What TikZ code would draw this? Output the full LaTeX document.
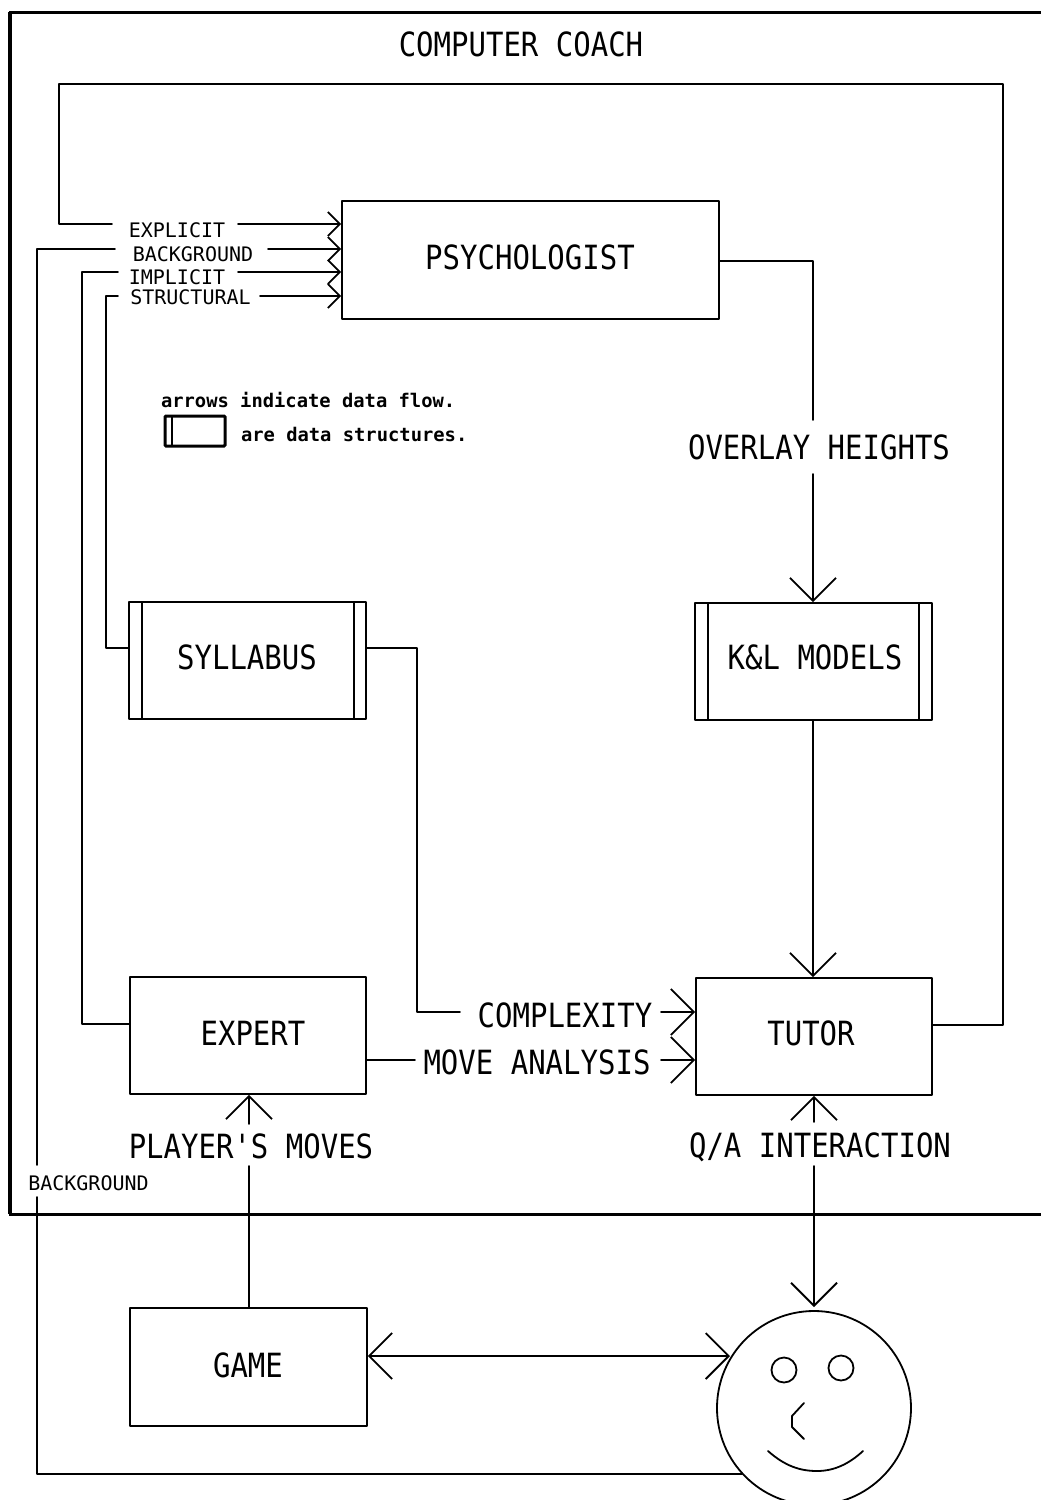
\documentclass[tikz,border=0pt]{standalone}
\usepackage{fontspec}
\usepackage{graphicx}
\setmonofont{DejaVu Sans Mono}
\usetikzlibrary{arrows.meta,calc}
\newcommand{\bigtxt}[1]{{\ttfamily\fontsize{29}{29}\selectfont\scalebox{1}[1.15]{#1}}}
\newcommand{\smalltxt}[1]{{\ttfamily\fontsize{20}{20}\selectfont #1}}
\newcommand{\tinytxt}[1]{{\ttfamily\bfseries\fontsize{18.8}{20}\selectfont #1}}
\tikzset{
  ln/.style={line width=1.8pt,line cap=round,line join=round},
  boxn/.style={draw,ln,inner sep=0pt,fill=white},
  lab/.style={inner sep=0pt,outer sep=0pt},
  bigtip/.style={-{Straight Barb[length=23pt,width=46pt,line width=1.8pt]}},
  bigboth/.style={{Straight Barb[length=23pt,width=46pt,line width=1.8pt]}-{Straight Barb[length=23pt,width=46pt,line width=1.8pt]}},
  smalltip/.style={-{Straight Barb[length=12pt,width=24pt,line width=1.8pt]}},
}
\begin{document}
\begin{tikzpicture}[x=1pt,y=-1pt]
\useasboundingbox (0,0) rectangle (1041,1500);
\begin{scope}
\clip (0,0) rectangle (1041,1500);
% frame
\coordinate (ftr) at (1041,12);
\coordinate (ftl) at (10,12);
\coordinate (fbl) at (10,1214);
\coordinate (fbr) at (1041,1214);
\draw[line width=3pt,line join=miter] (ftr) -- (ftl) -- (fbl) -- (fbr);
\draw[line width=4pt] (ftl) -- (fbl);
\node[lab] (title) at (521,44) {\bigtxt{COMPUTER COACH}};

% boxes
\node[boxn,minimum width=377pt,minimum height=118pt] (psy) at (530.5,260) {};
\node[boxn,minimum width=237pt,minimum height=117pt] (syl) at (247.5,660.5) {};
\node[boxn,minimum width=237pt,minimum height=117pt] (kl) at (813.5,661.5) {};
\node[boxn,minimum width=236pt,minimum height=117pt] (exp) at (248,1035.5) {};
\node[boxn,minimum width=236pt,minimum height=117pt] (tut) at (814,1036.5) {};
\node[boxn,minimum width=237pt,minimum height=118pt] (game) at (248.5,1367) {};
\node[draw,ln,circle,minimum size=194pt,inner sep=0pt] (face) at (814,1408) {};

% box texts
\node[lab] (tpsy) at (530,257) {\bigtxt{PSYCHOLOGIST}};
\node[lab] (tsyl) at (247,657) {\bigtxt{SYLLABUS}};
\node[lab] (tkl) at (815,657) {\bigtxt{K\&L MODELS}};
\node[lab] (texp) at (253,1033) {\bigtxt{EXPERT}};
\node[lab] (ttut) at (811,1033) {\bigtxt{TUTOR}};
\node[lab] (tgame) at (248,1365) {\bigtxt{GAME}};

% data structure bars
\draw[ln] (142,602) -- (142,719) (354,602) -- (354,719);
\draw[ln] (708,603) -- (708,720) (919,603) -- (919,720);

% face details
\node[draw,ln,circle,minimum size=25pt,inner sep=0pt] (eyeL) at (784,1370) {};
\node[draw,ln,circle,minimum size=25pt,inner sep=0pt] (eyeR) at (841,1368) {};
\draw[ln] (804,1403) -- (792,1416) -- (792,1427) -- (804,1439);
\draw[ln] (768,1451) .. controls (785,1466) and (800,1471) .. (817,1471) .. controls (834,1471) and (849,1464) .. (863,1451);

% labels
\node[lab] (lexp) at (177,230) {\smalltxt{EXPLICIT}};
\node[lab] (lbg) at (193,254) {\smalltxt{BACKGROUND}};
\node[lab] (limp) at (177,277) {\smalltxt{IMPLICIT}};
\node[lab] (lstr) at (190.5,297) {\smalltxt{STRUCTURAL}};
\node[lab] (lover) at (819,447) {\bigtxt{OVERLAY HEIGHTS}};
\node[lab] (lcomp) at (565,1015) {\bigtxt{COMPLEXITY}};
\node[lab] (lmove) at (537,1062) {\bigtxt{MOVE ANALYSIS}};
\node[lab] (lplay) at (251,1146) {\bigtxt{PLAYER'S MOVES}};
\node[lab] (lqa) at (820,1147) {\bigtxt{Q/A INTERACTION}};
\node[lab] (lbg2) at (88.5,1183) {\smalltxt{BACKGROUND}};
\node[lab,anchor=west] (leg1) at (161,400) {\tinytxt{arrows indicate data flow.}};
\node[lab,anchor=west] (leg2) at (241,434) {\tinytxt{are data structures.}};

% legend box
\node[draw,line width=3pt,minimum width=60pt,minimum height=30pt,inner sep=0pt,rounded corners=1pt] (legbox) at (195,431) {};
\draw[line width=2pt] (172,416) -- (172,446);

% connectors
\coordinate (t1) at (1003,1025);
\coordinate (t2) at (1003,84);
\coordinate (t3) at (59,84);
\draw[ln] (tut.east |- t1) -- (t1) -- (t2) -- (t3) -- (59,224) -- (112,224);
\draw[ln,smalltip] (238,224) -- (psy.west |- 0,224);

\draw[ln] (742,1474) -- (37,1474) -- (37,1197);
\draw[ln] (37,1165) -- (37,249) -- (115,249);
\draw[ln,smalltip] (268,249) -- (psy.west |- 0,249);

\draw[ln] (exp.west |- 0,1024) -- (82,1024) -- (82,272) -- (118,272);
\draw[ln,smalltip] (238,272) -- (psy.west |- 0,272);

\draw[ln] (syl.west |- 0,648) -- (106,648) -- (106,296) -- (118,296);
\draw[ln,smalltip] (260,296) -- (psy.west |- 0,296);

\draw[ln] (psy.east |- 0,261) -- (813,261) -- (813,420);
\draw[ln,bigtip] (813,474) -- (kl.north -| 813,0);

\draw[ln,bigtip] (kl.south -| 813,0) -- (tut.north -| 813,0);

\draw[ln] (syl.east |- 0,648) -- (417,648) -- (417,1012) -- (460,1012);
\draw[ln,bigtip] (661,1012) -- (tut.west |- 0,1012);

\draw[ln] (exp.east |- 0,1060) -- (415,1060);
\draw[ln,bigtip] (661,1060) -- (tut.west |- 0,1060);

\draw[ln,bigtip] (249,1124) -- (exp.south -| 249,0);
\draw[ln] (game.north -| 249,0) -- (249,1166);

\draw[ln,bigtip] (814,1122) -- (tut.south -| 814,0);
\coordinate (fapex) at (814,1307);
\draw[ln,bigtip] (814,1166) -- (fapex);

\draw[ln,bigboth] (game.east |- 0,1356) -- (730,1356);
\end{scope}
\end{tikzpicture}
\end{document}
